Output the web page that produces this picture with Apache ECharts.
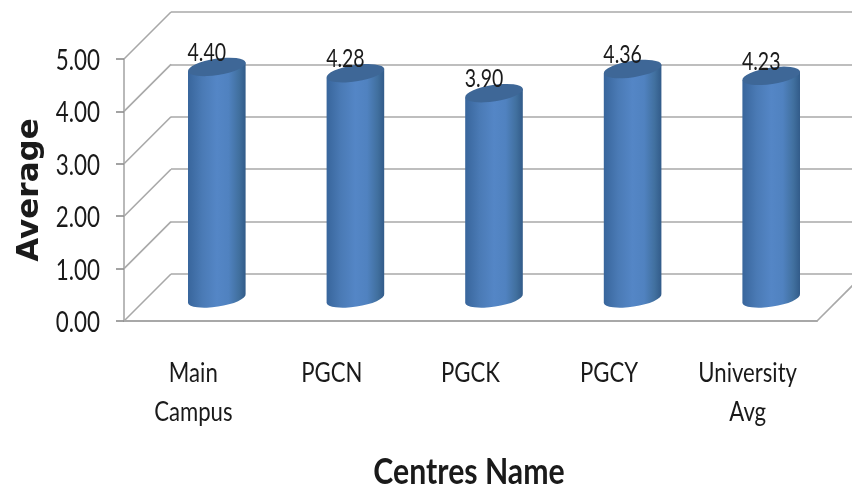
<!DOCTYPE html>
<html><head><meta charset="utf-8">
<style>html,body{margin:0;padding:0;background:#fff}#c{width:852px;height:488px}</style>
<script src="https://cdn.jsdelivr.net/npm/echarts@6/dist/echarts.min.js"></script>
</head><body><div id="c"></div>
<script>
const categories = ['Main\nCampus','PGCN','PGCK','PGCY','University\nAvg'];
const averages = [4.40,4.28,3.90,4.36,4.23];
const yTicks = [0,1,2,3,4,5];
const DEPTH = 47, FONT = 'Lato,"Noto Sans",sans-serif', GRAY = '#a8a8a8', INK = '#1a1a1a';
const RX = 29.1, RY = 8.2, TILT = -8.7, HALF = 28.8, RISE = 4.4;
const chart = echarts.init(document.getElementById('c'));
function narrowText(text, x, y, size, align, sx, lh, va){
  return {type:'text',x:x,y:y,scaleX:sx,style:{text:text,x:0,y:0,align:align,verticalAlign:va||'middle',fill:INK,font:size+'px '+FONT,lineHeight:lh||size}};
}
function wallItem(p, api){
  const v = api.value(0), size = api.size([1,0])[0];
  const first = api.coord([0,v]), last = api.coord([categories.length-1,v]);
  const x0 = first[0]-size/2, x1 = last[0]+size/2, y = first[1];
  const children = [
    {type:'line',shape:{x1:x0,y1:y,x2:x0+DEPTH,y2:y-DEPTH},style:{stroke:GRAY,lineWidth:1.6}},
    narrowText(v.toFixed(2), x0-24, y+2, 28, 'right', 0.8)
  ];
  if(v===0) children.push({type:'line',shape:{x1:x1,y1:y,x2:x1+DEPTH,y2:y-DEPTH},style:{stroke:GRAY,lineWidth:1.6}});
  return {type:'group',children};
}
function catItem(p, api){
  const i = api.value(0), c = api.coord([i,0]);
  return narrowText(categories[i], c[0], c[1]+33, 27, 'center', 0.82, 39, 'top');
}
function barItem(p, api){
  const i = api.value(0), v = api.value(1);
  const top = api.coord([i,v]), base = api.coord([i,0]);
  const cx = top[0]+DEPTH/2, ty = top[1]-DEPTH/2, by = base[1]-DEPTH/2+1;
  const arc = `${RX} ${RY} ${TILT}`;
  const body = `M${cx-HALF} ${ty+RISE}L${cx+HALF} ${ty-RISE}L${cx+HALF} ${by-RISE}A${arc} 0 1 ${cx-HALF} ${by+RISE}Z`;
  const cap = `M${cx-HALF} ${ty+RISE}A${arc} 0 1 ${cx+HALF} ${ty-RISE}A${arc} 0 1 ${cx-HALF} ${ty+RISE}Z`;
  return {type:'group',children:[
    {type:'path',shape:{pathData:body},style:{fill:new echarts.graphic.LinearGradient(0,0,1,0,[
      {offset:0,color:'#38659b'},{offset:.25,color:'#4a7ab5'},{offset:.5,color:'#5486c6'},{offset:.7,color:'#5082c0'},{offset:.88,color:'#41709f'},{offset:1,color:'#315a88'}])}},
    {type:'path',shape:{pathData:cap},style:{fill:'#3e6797'}},
    narrowText(v.toFixed(2), cx-10, ty-14, 25, 'center', 0.78)
  ]};
}
chart.setOption({
  backgroundColor:'#fff',animation:false,
  grid:[
    {left:124,width:693,top:59,height:262,outerBoundsMode:'none'},
    {left:124+DEPTH,width:693,top:59-DEPTH,height:262,outerBoundsMode:'none'}
  ],
  xAxis:[
    {type:'category',gridIndex:0,data:categories,axisTick:{show:false},
     axisLine:{lineStyle:{color:GRAY,width:2}},axisLabel:{show:false}},
    {type:'category',gridIndex:1,data:categories,show:false}
  ],
  yAxis:[
    {type:'value',gridIndex:0,min:0,max:5,interval:1,splitLine:{show:false},
     axisLine:{show:true,lineStyle:{color:GRAY,width:1.6}},
     axisTick:{show:true,length:8,lineStyle:{color:'#8c8c8c',width:1.6}},
     axisLabel:{show:false},
     name:'Average',nameLocation:'middle',nameGap:79,
     nameTextStyle:{color:INK,fontFamily:'"DejaVu Sans",sans-serif',fontWeight:'bold',fontSize:31}},
    {type:'value',gridIndex:1,min:0,max:5,interval:1,axisLine:{show:false},axisTick:{show:false},axisLabel:{show:false},
     splitLine:{show:true,lineStyle:{color:GRAY,width:1.6}}}
  ],
  graphic:[{type:'text',x:469,y:472,scaleX:0.84,style:{text:'Centres Name',x:0,y:0,align:'center',verticalAlign:'middle',fill:INK,font:'bold 36px '+FONT}}],
  series:[
    {type:'custom',xAxisIndex:0,yAxisIndex:0,clip:false,z:1,data:yTicks.map(v=>[v]),renderItem:wallItem},
    {type:'custom',xAxisIndex:0,yAxisIndex:0,clip:false,z:2,data:categories.map((c,i)=>[i]),renderItem:catItem},
    {type:'custom',xAxisIndex:0,yAxisIndex:0,clip:false,z:3,data:averages.map((v,i)=>[i,v]),renderItem:barItem}
  ]
});
</script></body></html>
